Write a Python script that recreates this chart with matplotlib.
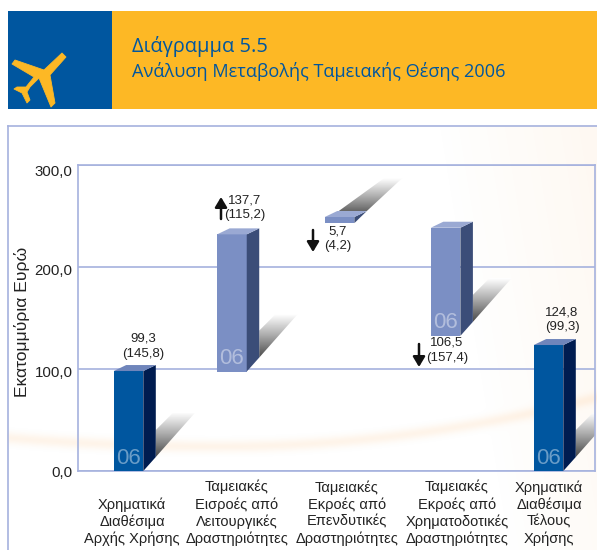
import numpy as np
import matplotlib
matplotlib.use("Agg")
import matplotlib.pyplot as plt
from matplotlib.patches import Polygon, Rectangle
from matplotlib.colors import LinearSegmentedColormap

W, H = 597, 550
# ---- data
categories = ["Χρηματικά\nΔιαθέσιμα\nΑρχής Χρήσης",
              "Ταμειακές\nΕισροές από\nΛειτουργικές\nΔραστηριότητες",
              "Ταμειακές\nΕκροές από\nΕπενδυτικές\nΔραστηριότητες",
              "Ταμειακές\nΕκροές από\nΧρηματοδοτικές\nΔραστηριότητες",
              "Χρηματικά\nΔιαθέσιμα\nΤέλους\nΧρήσης"]
bar_bottom = [0.0, 97.5, 243.0, 132.5, 0.0]
bar_top = [98.0, 232.0, 249.0, 238.5, 123.5]
labels_2006 = ["99,3", "137,7", "5,7", "106,5", "124,8"]
labels_2005 = ["(145,8)", "(115,2)", "(4,2)", "(157,4)", "(99,3)"]
yticks = [0, 100, 200, 300]
ytick_labels = ["0,0", "100,0", "200,0", "300,0"]
y_title = "Εκατομμύρια Ευρώ"
title1 = "Διάγραμμα 5.5"
title2 = "Ανάλυση Μεταβολής Ταμειακής Θέσης 2006"

# ---- layout (pixels / slots)
slot_x = [0.0, 0.985, 2.01, 3.02, 4.0]
cat_label_px = [132, 237, 347, 457, 549]
value_label_px = [(143, 339), (245, 201), (338, 232), (447, 343), (562, 313)]
tick_shift_px = [2, 4, 4, 7]

BLUE = "#00569f"; BLUE_D = "#001c50"; BLUE_T = "#6f85bb"
PERI = "#7b8fc4"; PERI_D = "#3b4d78"; PERI_T = "#9aa9d3"
FRAME = "#a6b2de"; ORANGE = "#fdb825"; TXT = "#222222"
SANS = ["Liberation Sans", "DejaVu Sans"]

fig = plt.figure(figsize=(W/100, H/100), dpi=100, facecolor="white")
bg = fig.add_axes([0, 0, 1, 1], zorder=0)
bg.axis("off")

# panel glow and swoosh
yy, xx = np.mgrid[125:H, 7:W]
glow = np.clip((xx - 430) / 165.0 - (yy - 125) / 1000.0, 0, 1) * 0.07
curve = 446 - np.where(xx < 220, 0.00019, 0.000345) * (xx - 220.0) ** 2
swoosh = np.exp(-((yy - curve) / 6.0) ** 2) * 0.11
img = np.ones(xx.shape + (4,))
img[..., 0] = 0.99; img[..., 1] = 0.62; img[..., 2] = 0.25
img[..., 3] = np.clip(glow + swoosh, 0, 1)
bg.imshow(img, extent=(7, W, H, 125), zorder=1, aspect="auto")
bg.set_xlim(0, W); bg.set_ylim(H, 0)
bg.plot([8, 8], [H, 125.5], color=FRAME, lw=1.2, zorder=2)
bg.plot([8, W], [125.5, 125.5], color=FRAME, lw=1.2, zorder=2)

# header
bg.add_patch(Rectangle((8, 11), 104, 98, fc=BLUE, ec="none", zorder=3))
bg.add_patch(Rectangle((112, 11), W-112, 98, fc=ORANGE, ec="none", zorder=3))
plane = [(62, 53), (66, 57), (50, 75), (55, 103), (51, 107), (39, 78), (30, 87), (27, 92), (30, 100),
         (27, 103), (22, 93), (14, 89), (17, 87), (26, 87), (34, 77), (12, 64), (15, 60), (44, 70)]
bg.add_patch(Polygon(plane, closed=True, fc=ORANGE, ec=ORANGE, lw=0.6, joinstyle="round", zorder=4))
bg.text(132, 46.5, title1, color=BLUE, fontsize=14.4, family="Open Sans", va="center", ha="left", zorder=4)
bg.text(132, 71.5, title2, color=BLUE, fontsize=13.1, family="Open Sans", va="center", ha="left", zorder=4)

# chart axes
L, R, T, B = 78, 595, 165, 471
ax = fig.add_axes([L/W, 1-B/H, (R-L)/W, (B-T)/H], zorder=2)
ax.patch.set_alpha(0)
x0_px, step_px = 128.5, 105.0
xlim = ((L-x0_px)/step_px, (R-x0_px)/step_px)
PX = 1/step_px; PY = 300/(B-T)
hw = 14.8*PX; dx = 12.5*PX; dy = 6*PY

ax.set_yticks(yticks)
ax.set_yticklabels([])
ax.set_xticks([])
ax.tick_params(axis="y", length=0)
for s in ax.spines.values():
    s.set_color(FRAME); s.set_linewidth(1.2)
ax.grid(axis="y", color=FRAME, lw=1.2, zorder=1)
ax.set_axisbelow(True)
fig.text(22/W, 1-322/H, y_title, rotation=90, family=SANS, fontsize=12.6, color=TXT, ha="center", va="center")

grad = np.linspace(0, 1, 64).reshape(-1, 1)
gcmap = LinearSegmentedColormap.from_list("g", ["#4a4a4a", "#a8a8a8", "#ffffff"])

def draw_bar(i):
    x = slot_x[i]; b = bar_bottom[i]; t = bar_top[i]
    xl, xr = x-hw, x+hw
    front, side, top = (BLUE, BLUE_D, BLUE_T) if i in (0, 4) else (PERI, PERI_D, PERI_T)
    thin = (t-b) < 20
    if thin:
        top_y = t + 39*PY
        poly = Polygon([(xl+14*PX, t+dy), (xr+dx, t+dy), (xr+48*PX, top_y), (xr+30*PX, top_y)],
                       closed=True, fc="none", ec="none")
        bot_y, ext_x = t, (xl, xr+60*PX)
    else:
        sx0 = xr + dx; sb = b + 14*PY
        top_y = sb + 44*PY
        poly = Polygon([(sx0, sb), (sx0+39*PX, top_y), (sx0+17*PX, top_y), (sx0, sb+27*PY)],
                       closed=True, fc="none", ec="none")
        bot_y, ext_x = sb, (sx0, sx0+39*PX)
    ax.add_patch(poly)
    im = ax.imshow(grad, origin="lower", extent=(ext_x[0], ext_x[1], bot_y, top_y), cmap=gcmap,
                   vmin=0, vmax=1, aspect="auto", zorder=2)
    im.set_clip_path(poly)
    ax.add_patch(Polygon([(xl, b), (xr, b), (xr, t), (xl, t)], fc=front, ec="none", zorder=3))
    if thin:
        ax.add_patch(Polygon([(xr, b), (xr+dx, t+dy), (xr, t)], fc=side, ec="none", zorder=3))
    else:
        ax.add_patch(Polygon([(xr, b), (xr+dx, b+14*PY), (xr+dx, t+dy), (xr, t)], fc=side, ec="none", zorder=3))
    ax.add_patch(Polygon([(xl, t), (xr, t), (xr+dx, t+dy), (xl+dx, t+dy)], fc=top, ec="none", zorder=3))
    if not thin:
        ax.text(x, b+13*PY, "06", color="#ffffff", alpha=0.42, fontsize=16, family=SANS,
                ha="center", va="center", zorder=4)

for i in range(len(categories)):
    draw_bar(i)
ax.set_xlim(*xlim); ax.set_ylim(0, 300)

to_x = lambda px: (px-x0_px)/step_px
to_y = lambda py: (B-py)*PY

# y tick labels sit slightly below their gridlines
for v, txt, s in zip(yticks, ytick_labels, tick_shift_px):
    ax.text(to_x(72.5), v - s*PY, txt, family=SANS, fontsize=10.8, color=TXT, ha="right", va="center", clip_on=False)

for i, (px, py) in enumerate(value_label_px):
    ax.text(to_x(px), to_y(py), labels_2006[i], family=SANS, fontsize=9.5, color=TXT, ha="center", va="center", zorder=5)
    ax.text(to_x(px), to_y(py+14.5), labels_2005[i], family=SANS, fontsize=9.5, color=TXT, ha="center", va="center", zorder=5)

def arrow(px, y0, y1):
    ax.annotate("", xy=(to_x(px), to_y(y1)), xytext=(to_x(px), to_y(y0)),
                arrowprops=dict(arrowstyle="-|>,head_width=0.36,head_length=0.6", color="#111111", lw=1.8,
                                shrinkA=0, shrinkB=0), zorder=5)
arrow(221, 219, 197); arrow(313, 230, 252); arrow(419, 344, 367)

for i, c in enumerate(categories):
    n = c.count("\n")+1
    ax.text(to_x(cat_label_px[i]), to_y(539-(n-1)*8.65), c, family=SANS, fontsize=10.5,
            color=TXT, ha="center", va="center", linespacing=1.235, clip_on=False, zorder=5)

fig.savefig("out.png", dpi=100)
